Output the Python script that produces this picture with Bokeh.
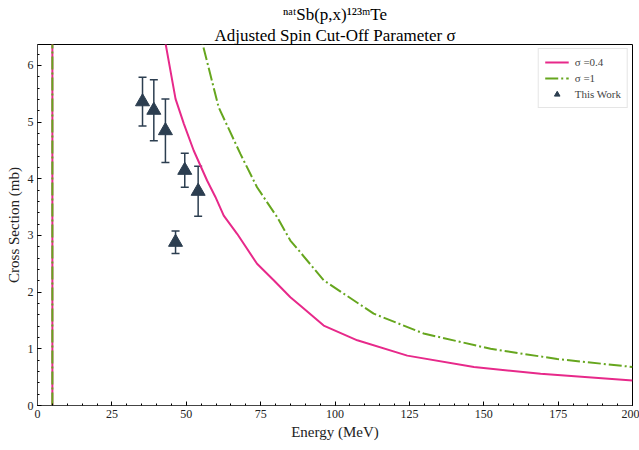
from bokeh.plotting import figure
from bokeh.models import (ColumnDataSource, Whisker, TeeHead, Title,
                          SingleIntervalTicker, Legend, LegendItem)
from bokeh.embed import file_html
from bokeh.resources import INLINE

# ---- data ----
energy_s04 = [5, 5, 20, 35, 40, 43.0, 46.4, 49.2, 52.5, 57.0, 59.8, 62.6, 67.1,
              73.8, 79.4, 85.0, 88.4, 96.2, 107.5, 124.3, 146.7, 169.1, 200]
xs_s04 = [0, 60, 20, 9.5, 7.3, 6.4, 5.41, 4.97, 4.50, 3.97, 3.68, 3.35, 3.03,
          2.50, 2.21, 1.91, 1.76, 1.41, 1.15, 0.88, 0.68, 0.56, 0.44]

energy_s1 = [5, 5, 20, 40, 50, 55.4, 60.9, 64.3, 68.2, 73.8, 80.6, 85.0, 88.4,
             96.2, 113.0, 129.8, 152.3, 174.7, 200]
xs_s1 = [0, 90, 30, 11, 7.8, 6.4, 5.26, 4.88, 4.44, 3.85, 3.32, 2.91, 2.70,
         2.21, 1.62, 1.27, 1.00, 0.82, 0.68]

exp_energy = [35.3, 39.1, 43.0, 46.4, 49.5, 54.0]
exp_xs = [5.36, 5.21, 4.85, 2.88, 4.15, 3.78]
exp_err = [0.43, 0.54, 0.56, 0.20, 0.30, 0.44]

x_ticks_interval = 25
y_ticks_interval = 1
title_line1 = "ⁿᵃᵗSb(p,x)¹²³ᵐTe"
title_line2 = "Adjusted Spin Cut-Off Parameter σ"

PINK = "#e7298a"
GREEN = "#66a61e"
NAVY = "#2c3e50"
FONT = "Liberation Serif"
X_MAX = 200
Y_MAX = 6.37

p = figure(width=639, height=450, x_range=(0, X_MAX), y_range=(0, Y_MAX),
           output_backend="svg", toolbar_location=None,
           min_border_left=37, min_border_right=7, min_border_top=44,
           min_border_bottom=45, background_fill_color="white",
           border_fill_color="white")
p.title.visible = False

t2 = Title(text=title_line2, align="center", text_font=FONT,
           text_font_size="17px", text_font_style="normal",
           text_color="black", standoff=0, offset=0)
t1 = Title(text=title_line1, align="center", text_font=FONT,
           text_font_size="17px", text_font_style="normal",
           text_color="black", standoff=0, offset=0)
p.add_layout(t2, "above")
p.add_layout(t1, "above")

p.grid.visible = False
p.outline_line_color = "black"
p.outline_line_width = 1

p.xaxis.ticker = SingleIntervalTicker(interval=x_ticks_interval, num_minor_ticks=5)
p.yaxis.ticker = SingleIntervalTicker(interval=y_ticks_interval, num_minor_ticks=5)
for ax in (p.xaxis[0], p.yaxis[0]):
    ax.major_tick_in = 4
    ax.major_tick_out = 0
    ax.minor_tick_in = 2
    ax.minor_tick_out = 0
    ax.axis_line_color = "#444444"
    ax.major_tick_line_color = "black"
    ax.minor_tick_line_color = "black"
    ax.major_label_text_font = FONT
    ax.major_label_text_font_size = "12px"
    ax.major_label_text_color = "#222222"
    ax.axis_label_text_font = FONT
    ax.axis_label_text_font_size = "15px"
    ax.axis_label_text_font_style = "normal"
    ax.axis_label_text_color = "#222222"
    ax.major_label_standoff = 4
    ax.axis_label_standoff = 3

p.xaxis.axis_label = "Energy (MeV)"
p.yaxis.axis_label = "Cross Section (mb)"

r1 = p.line(energy_s04, xs_s04, line_color=PINK, line_width=2)
r2 = p.line(energy_s1, xs_s1, line_color=GREEN, line_width=2, line_dash="13 3 2 3")

src = ColumnDataSource(dict(x=exp_energy, y=exp_xs,
                            upper=[v + e for v, e in zip(exp_xs, exp_err)],
                            lower=[v - e for v, e in zip(exp_xs, exp_err)]))
wh = Whisker(base="x", upper="upper", lower="lower", source=src,
             line_color=NAVY, line_width=1.5,
             upper_head=TeeHead(size=8, line_color=NAVY, line_width=1.5),
             lower_head=TeeHead(size=8, line_color=NAVY, line_width=1.5))
p.add_layout(wh)
r3 = p.scatter("x", "y", source=src, marker="triangle", size=14,
               fill_color=NAVY, line_color=NAVY)

legend = Legend(items=[LegendItem(label="σ =0.4", renderers=[r1]),
                       LegendItem(label="σ =1", renderers=[r2]),
                       LegendItem(label="This Work", renderers=[r3])],
                location="top_right", label_text_font=FONT,
                label_text_font_size="11px", border_line_color="#cccccc",
                background_fill_alpha=0.9, margin=4, padding=6, spacing=2,
                glyph_width=24, glyph_height=14, label_standoff=6,
                label_height=14)
p.add_layout(legend)

open("out.html", "w").write(file_html(p, INLINE))
